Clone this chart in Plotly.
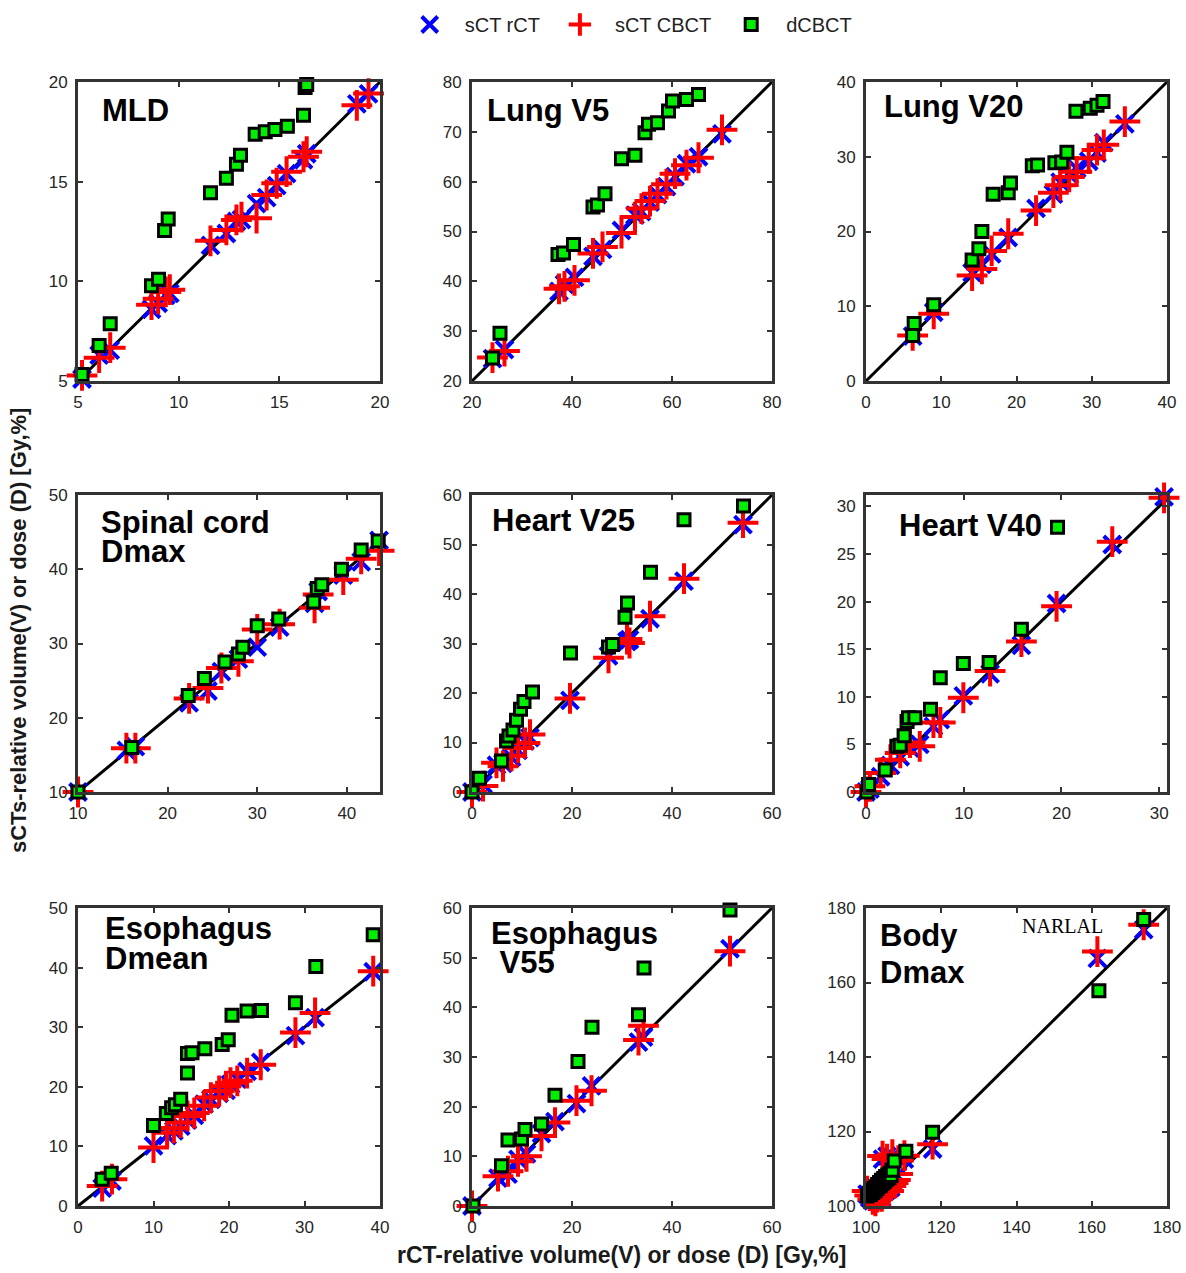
import plotly.graph_objects as go

# ---------------- data ----------------
# MLD
MLD_CBCT_X = [5.2, 6.05, 6.6, 8.65, 8.98, 9.36, 9.56, 11.58, 12.37, 12.87, 13.12, 13.87, 14.37, 14.87, 15.36, 16.2, 16.36, 18.85, 19.43]
MLD_CBCT_Y = [5.28, 6.17, 6.67, 8.83, 9.12, 9.47, 9.58, 12.03, 12.58, 13.08, 13.22, 13.17, 14.33, 14.92, 15.5, 16.25, 16.5, 18.83, 19.42]
MLD_RCT_Y = [5.1, 6.3, 6.55, 8.6, 8.9, 9.3, 9.4, 11.8, 12.4, 13.0, 13.1, 13.9, 14.2, 14.8, 15.4, 16.1, 16.4, 18.9, 19.4]
MLD_D_X = [5.2, 6.05, 6.6, 8.65, 9.0, 9.3, 9.48, 11.58, 12.37, 12.87, 13.07, 13.8, 14.3, 14.78, 15.4, 16.2, 16.28, 16.36]
MLD_D_Y = [5.33, 6.78, 7.87, 9.78, 10.1, 12.55, 13.13, 14.45, 15.17, 15.88, 16.33, 17.38, 17.5, 17.62, 17.78, 18.33, 19.72, 19.88]

# Lung V5
LV5_CBCT_X = [24.1, 26.5, 37.4, 38.5, 40.5, 44.2, 46.1, 49.9, 52.6, 53.9, 55.6, 57.1, 58.9, 60.6, 62.9, 65.3, 70.0]
LV5_CBCT_Y = [24.7, 26.0, 38.5, 39.0, 40.2, 45.6, 46.9, 49.7, 52.9, 54.6, 56.1, 57.6, 59.5, 61.6, 63.3, 64.8, 70.4]
LV5_RCT_Y = [24.5, 26.3, 38.0, 39.4, 40.8, 45.0, 46.4, 50.2, 53.3, 54.0, 55.9, 57.4, 59.0, 61.0, 63.6, 65.0, 69.6]
LV5_D_X = [24.1, 25.6, 37.2, 38.3, 40.3, 44.2, 45.1, 46.6, 49.9, 52.6, 54.6, 55.3, 57.1, 59.3, 60.1, 62.9, 65.3]
LV5_D_Y = [24.6, 29.6, 45.4, 45.7, 47.4, 54.9, 55.3, 57.6, 64.6, 65.3, 69.8, 71.5, 71.8, 74.2, 76.2, 76.5, 77.5]

# Lung V20
LV20_CBCT_X = [6.2, 9.0, 14.1, 15.4, 16.7, 18.9, 22.6, 24.9, 25.8, 27.0, 28.0, 29.6, 30.7, 31.6, 34.4]
LV20_CBCT_Y = [6.1, 9.0, 14.1, 15.0, 17.4, 19.7, 22.8, 25.2, 26.2, 27.3, 28.0, 29.8, 30.9, 31.6, 34.7]
LV20_RCT_Y = [6.0, 9.2, 14.5, 15.6, 17.0, 19.2, 23.1, 25.0, 26.6, 27.6, 28.4, 29.4, 30.5, 31.9, 34.4]
LV20_D_X = [6.2, 6.4, 9.0, 14.1, 15.0, 15.4, 16.9, 18.9, 19.2, 22.1, 22.8, 25.1, 26.0, 26.7, 27.9, 29.8, 30.7, 31.5]
LV20_D_Y = [6.1, 7.7, 10.2, 16.2, 17.7, 20.0, 25.0, 25.2, 26.5, 28.8, 28.9, 29.2, 29.3, 30.6, 36.1, 36.5, 36.9, 37.4]

# Spinal cord Dmax
SC_CBCT_X = [10.0, 15.4, 16.4, 22.4, 24.5, 26.0, 27.9, 30.0, 32.5, 36.4, 36.8, 39.6, 41.6, 43.6]
SC_CBCT_Y = [10.0, 15.9, 15.9, 22.6, 24.0, 26.7, 27.6, 31.9, 32.6, 34.8, 36.6, 38.6, 41.4, 42.5]
SC_RCT_Y = [10.0, 15.6, 16.1, 22.0, 23.6, 26.2, 27.9, 29.5, 32.2, 35.4, 37.0, 39.2, 41.0, 43.9]
SC_D_X = [10.0, 16.0, 22.3, 24.1, 26.4, 27.9, 28.4, 30.0, 32.4, 36.3, 36.7, 37.2, 39.4, 41.6, 43.5]
SC_D_Y = [10.0, 16.0, 23.0, 25.3, 27.5, 28.6, 29.5, 32.4, 33.3, 35.6, 37.4, 37.9, 40.0, 42.6, 43.8]

# Heart V25
HV25_CBCT_X = [0.0, 2.2, 4.9, 6.2, 7.9, 9.2, 10.6, 11.6, 19.6, 27.3, 31.0, 31.5, 35.6, 42.4, 54.2]
HV25_CBCT_Y = [0.0, 1.2, 5.9, 5.2, 7.3, 8.9, 9.9, 11.6, 18.9, 27.1, 30.9, 30.1, 35.5, 43.1, 54.4]
HV25_RCT_Y = [0.0, 1.6, 5.4, 5.8, 7.0, 8.4, 10.3, 11.0, 18.5, 27.5, 30.4, 30.8, 35.0, 42.6, 54.0]
HV25_D_X = [0.0, 1.5, 5.9, 6.9, 7.4, 8.2, 8.9, 9.7, 10.4, 12.1, 19.7, 27.3, 28.1, 30.6, 31.1, 35.7, 42.4, 54.3]
HV25_D_Y = [0.0, 2.8, 6.25, 10.3, 11.3, 12.5, 14.5, 16.7, 18.3, 20.2, 28.1, 29.3, 29.8, 35.3, 38.2, 44.4, 55.0, 57.8]

# Heart V40
HV40_CBCT_X = [0.0, 0.4, 1.5, 2.5, 3.5, 4.5, 5.5, 6.9, 7.6, 9.96, 12.7, 15.9, 19.5, 25.2, 30.5]
HV40_CBCT_Y = [0.0, 0.6, 2.0, 3.4, 4.1, 5.2, 4.8, 7.3, 7.3, 9.9, 12.7, 15.8, 19.5, 26.3, 30.9]
HV40_RCT_Y = [0.0, 0.3, 1.6, 2.8, 3.7, 4.6, 5.0, 6.9, 7.6, 10.1, 12.4, 15.4, 19.8, 26.0, 31.0]
HV40_D_X = [0.1, 0.27, 1.97, 3.16, 3.5, 3.9, 4.2, 4.35, 5.0, 6.6, 7.6, 9.96, 12.6, 15.9, 19.6]
HV40_D_Y = [0.0, 0.8, 2.3, 4.8, 4.9, 5.9, 7.4, 7.8, 7.8, 8.7, 12.0, 13.5, 13.6, 17.1, 27.8]

# Esophagus Dmean
ED_CBCT_X = [3.2, 4.5, 10.0, 11.8, 12.7, 13.6, 14.5, 15.4, 16.7, 17.6, 18.7, 19.6, 20.2, 21.1, 22.4, 24.2, 28.8, 31.4, 39.1]
ED_CBCT_Y = [3.35, 4.5, 9.8, 12.3, 13.1, 14.0, 15.1, 15.6, 16.8, 18.2, 19.3, 20.1, 20.7, 21.0, 22.3, 23.7, 29.1, 32.4, 39.4]
ED_RCT_Y = [3.0, 4.2, 10.1, 11.8, 12.6, 13.4, 14.4, 15.2, 17.1, 17.9, 18.9, 19.4, 20.4, 21.3, 22.6, 24.1, 28.6, 31.6, 39.3]
ED_D_X = [3.2, 4.4, 10.0, 11.7, 12.4, 12.9, 13.6, 14.5, 14.5, 15.1, 16.8, 19.1, 19.9, 20.4, 22.4, 24.3, 28.8, 31.5, 39.1]
ED_D_Y = [4.5, 5.5, 13.5, 15.5, 16.5, 17.0, 17.9, 22.3, 25.6, 25.7, 26.4, 27.1, 27.9, 32.0, 32.7, 32.8, 34.1, 40.2, 45.5]

# Esophagus V55
EV_CBCT_X = [0.0, 5.2, 7.2, 9.2, 10.9, 13.9, 16.6, 20.9, 23.9, 33.3, 34.3, 51.6]
EV_CBCT_Y = [0.0, 6.0, 7.0, 9.0, 10.0, 14.1, 16.8, 21.2, 23.2, 33.4, 36.3, 51.3]
EV_RCT_Y = [0.0, 5.6, 6.4, 9.4, 10.5, 14.6, 17.0, 20.6, 24.2, 33.0, 34.0, 51.8]
EV_D_X = [0.2, 5.9, 7.2, 9.9, 10.6, 13.9, 16.6, 21.2, 24.0, 33.3, 34.4, 51.6]
EV_D_Y = [0.0, 8.1, 13.3, 13.5, 15.4, 16.5, 22.3, 29.1, 36.0, 38.5, 47.9, 59.6]

# Body Dmax
BD_CBCT_X = [100.3, 101.0, 101.8, 102.5, 103.0, 103.6, 104.2, 104.8, 105.4, 106.0, 106.6, 107.2, 107.8, 108.4, 104.4, 105.6, 107.0, 108.6, 110.2, 117.7, 161.5, 173.8]
BD_CBCT_Y = [104.0, 102.8, 101.8, 101.4, 102.4, 103.2, 102.6, 103.8, 104.6, 104.0, 105.4, 106.2, 107.0, 108.6, 113.4, 112.6, 113.8, 112.2, 113.5, 116.6, 168.3, 175.5]
BD_RCT_Y = [103.2, 102.2, 101.4, 101.9, 102.8, 103.6, 102.2, 104.2, 104.2, 104.6, 105.0, 106.8, 107.6, 108.0, 112.6, 113.4, 113.2, 112.8, 112.6, 115.3, 166.5, 174.2]
BD_D_X = [100.4, 100.8, 101.2, 101.5, 101.8, 102.1, 102.4, 102.6, 102.9, 103.1, 103.4, 103.6, 103.9, 104.1, 104.4, 104.7, 104.9, 105.2, 105.5, 105.8, 106.1, 106.4, 106.7, 107.0, 107.5, 110.6, 117.7, 161.9, 173.8]
BD_D_Y = [102.7, 103.4, 103.1, 104.0, 103.6, 104.6, 104.1, 105.2, 104.7, 105.8, 105.3, 106.3, 105.6, 106.9, 106.2, 107.4, 106.6, 107.9, 107.2, 108.3, 107.6, 108.8, 108.2, 109.6, 112.1, 114.7, 119.8, 157.8, 176.9]

# panel titles, axis ranges and ticks
TITLES = [["MLD"], ["Lung V5"], ["Lung V20"],
          ["Spinal cord", "Dmax"], ["Heart V25"], ["Heart V40"],
          ["Esophagus", "Dmean"], ["Esophagus", " V55"], ["Body", "Dmax"]]
X_RANGES = [[5, 20], [20, 80], [0, 40], [10, 43.7], [0, 60], [0, 30.8], [0, 40], [0, 60], [100, 180]]
Y_RANGES = [[5, 20], [20, 80], [0, 40], [10, 50], [0, 60], [0, 31.2], [0, 50], [0, 60], [100, 180]]
X_TICKS = [[5, 10, 15, 20], [20, 40, 60, 80], [0, 10, 20, 30, 40], [10, 20, 30, 40], [0, 20, 40, 60],
           [0, 10, 20, 30], [0, 10, 20, 30, 40], [0, 20, 40, 60], [100, 120, 140, 160, 180]]
Y_TICKS = [[5, 10, 15, 20], [20, 30, 40, 50, 60, 70, 80], [0, 10, 20, 30, 40], [10, 20, 30, 40, 50],
           [0, 10, 20, 30, 40, 50, 60], [0, 5, 10, 15, 20, 25, 30], [0, 10, 20, 30, 40, 50],
           [0, 10, 20, 30, 40, 50, 60], [100, 120, 140, 160, 180]]
IDENTITY = [[5, 20], [20, 80], [0, 40], [10, 43.7], [0, 60], [0, 31], [0, 40], [0, 60], [100, 180]]

SERIES_NAMES = ["sCT rCT", "sCT CBCT", "dCBCT"]
X_TITLE = "rCT-relative volume(V) or dose (D) [Gy,%]"
Y_TITLE = "sCTs-relative volume(V) or dose (D) [Gy,%]"

PANELS = [
    (MLD_CBCT_X, MLD_RCT_Y, MLD_CBCT_Y, MLD_D_X, MLD_D_Y),
    (LV5_CBCT_X, LV5_RCT_Y, LV5_CBCT_Y, LV5_D_X, LV5_D_Y),
    (LV20_CBCT_X, LV20_RCT_Y, LV20_CBCT_Y, LV20_D_X, LV20_D_Y),
    (SC_CBCT_X, SC_RCT_Y, SC_CBCT_Y, SC_D_X, SC_D_Y),
    (HV25_CBCT_X, HV25_RCT_Y, HV25_CBCT_Y, HV25_D_X, HV25_D_Y),
    (HV40_CBCT_X, HV40_RCT_Y, HV40_CBCT_Y, HV40_D_X, HV40_D_Y),
    (ED_CBCT_X, ED_RCT_Y, ED_CBCT_Y, ED_D_X, ED_D_Y),
    (EV_CBCT_X, EV_RCT_Y, EV_CBCT_Y, EV_D_X, EV_D_Y),
    (BD_CBCT_X, BD_RCT_Y, BD_CBCT_Y, BD_D_X, BD_D_Y),
]

# ---------------- layout geometry (pixels) ----------------
W, H = 1186, 1273
COLS_PX = [(78, 380), (472, 772), (866, 1167)]
ROWS_PX = [(82, 381), (495, 792), (908, 1206)]
# title anchor: left x, centre y of each line (px)
TITLE_POS = [
    (100, [110]), (485, [110]), (882, [107]),
    (99, [522, 552]), (490, [520]), (897, [525]),
    (103, [928, 958]), (489, [933, 962]), (878, [935, 972]),
]

FONT = "Liberation Sans, Arial, Helvetica, sans-serif"
FRAME = "#333333"

fig = go.Figure()
layout = dict()
annotations = []

for i, (xs, yb, yr, xg, yg) in enumerate(PANELS):
    r, c = divmod(i, 3)
    n = i + 1
    xa = "x" if n == 1 else f"x{n}"
    ya = "y" if n == 1 else f"y{n}"
    show = (i == 0)
    # identity line
    fig.add_trace(go.Scatter(x=IDENTITY[i], y=IDENTITY[i], mode="lines",
                             line=dict(color="black", width=3), showlegend=False,
                             hoverinfo="skip", xaxis=xa, yaxis=ya))
    fig.add_trace(go.Scatter(x=xs, y=yb, mode="markers", name=SERIES_NAMES[0],
                             marker=dict(symbol="x-thin", size=17, color="blue",
                                         line=dict(color="#0000ff", width=4)),
                             showlegend=show, cliponaxis=False, xaxis=xa, yaxis=ya))
    fig.add_trace(go.Scatter(x=xs, y=yr, mode="markers", name=SERIES_NAMES[1],
                             marker=dict(symbol="cross-thin", size=22, color="red",
                                         line=dict(color="#ff0000", width=4)),
                             showlegend=show, cliponaxis=False, xaxis=xa, yaxis=ya))
    fig.add_trace(go.Scatter(x=xg, y=yg, mode="markers", name=SERIES_NAMES[2],
                             marker=dict(symbol="square", size=12, color="#00ee00",
                                         line=dict(color="black", width=3)),
                             showlegend=show, cliponaxis=False, xaxis=xa, yaxis=ya))

    x0, x1 = COLS_PX[c]
    y0, y1 = ROWS_PX[r]
    key_x = "xaxis" if n == 1 else f"xaxis{n}"
    key_y = "yaxis" if n == 1 else f"yaxis{n}"
    common = dict(showgrid=False, zeroline=False, showline=True, linecolor=FRAME, linewidth=3,
                  mirror="ticks", ticks="inside", ticklen=5, tickwidth=2, tickcolor=FRAME,
                  automargin=False,
                  tickfont=dict(family=FONT, size=17, color="#262626"))
    layout[key_x] = dict(common, domain=[x0 / W, x1 / W], range=X_RANGES[i],
                         tickmode="array", tickvals=X_TICKS[i], anchor=ya,
                         ticklabelstandoff=4)
    layout[key_y] = dict(common, domain=[1 - y1 / H, 1 - y0 / H], range=Y_RANGES[i],
                         tickmode="array", tickvals=Y_TICKS[i], anchor=xa,
                         ticklabelstandoff=4)

    tx, tys = TITLE_POS[i]
    for line_text, ty in zip(TITLES[i], tys):
        annotations.append(dict(text=line_text.replace(" ", "&nbsp;", 1) if line_text.startswith(" ") else line_text,
                                x=tx / W, y=1 - ty / H, xref="paper", yref="paper",
                                xanchor="left", yanchor="middle", showarrow=False,
                                font=dict(family=FONT, size=31, color="black", weight="bold")))

annotations.append(dict(text="NARLAL", x=1062 / W, y=1 - 926 / H, xref="paper", yref="paper",
                        xanchor="center", yanchor="middle", showarrow=False,
                        font=dict(family="Liberation Serif, Times New Roman, serif", size=20, color="black")))
annotations.append(dict(text=f"<b>{X_TITLE}</b>", x=621 / W, y=1 - 1255 / H, xref="paper", yref="paper",
                        xanchor="center", yanchor="middle", showarrow=False,
                        font=dict(family=FONT, size=23, color="#1a1a1a")))
annotations.append(dict(text=f"<b>{Y_TITLE}</b>", x=18 / W, y=1 - 631 / H, xref="paper", yref="paper",
                        xanchor="center", yanchor="middle", showarrow=False, textangle=-90,
                        font=dict(family=FONT, size=22, color="#1a1a1a")))

fig.update_layout(
    width=W, height=H, margin=dict(l=0, r=0, t=0, b=0, autoexpand=False),
    paper_bgcolor="white", plot_bgcolor="white",
    annotations=annotations,
    legend=dict(orientation="h", x=0.528, xanchor="center", y=1 - 5 / H, yanchor="top",
                font=dict(family=FONT, size=20, color="#222222"), itemwidth=60,
                bgcolor="rgba(0,0,0,0)"),
    **layout,
)

fig.write_html("out.html")
